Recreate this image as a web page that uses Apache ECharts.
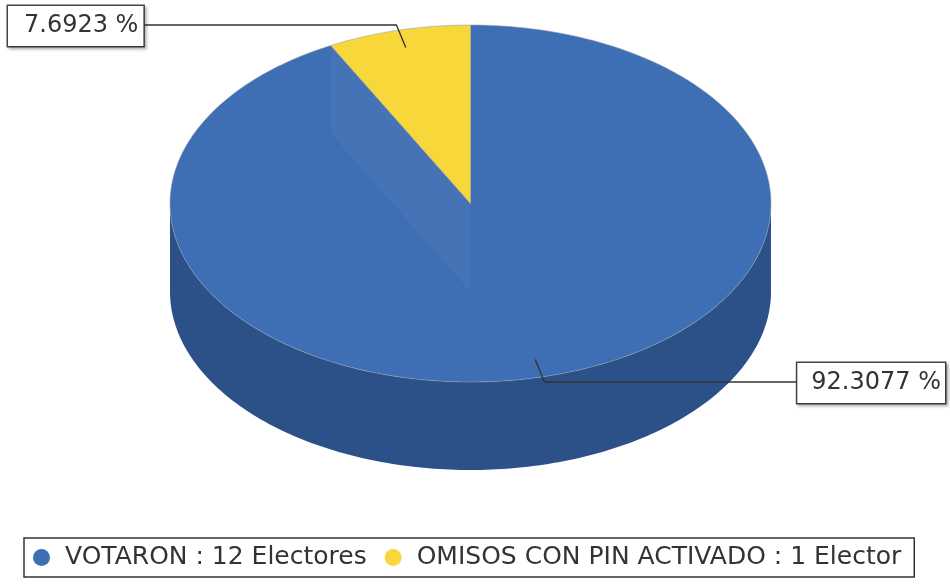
<!DOCTYPE html>
<html>
<head>
<meta charset="utf-8">
<script src="https://cdn.jsdelivr.net/npm/echarts@6/dist/echarts.min.js"></script>
<style>
  html, body { margin: 0; padding: 0; background: #fff; }
  #main { width: 950px; height: 586px; }
</style>
</head>
<body>
<div id="main"></div>
<script>
// datos del grafico
var categories = ['VOTARON', 'OMISOS CON PIN ACTIVADO'];
var values = [12, 1];
var units = ['Electores', 'Elector'];
var topColors = ['#3e6eb4', '#f7d73a'];
var sideColors = ['#2c5189', '#b89a1c'];

var total = values.reduce(function (a, b) { return a + b; }, 0);

// geometria de la torta 3D (elipse superior + profundidad)
var pie = { cx: 470.5, cy: 203.5, rx: 300.5, ry: 178.5, depth: 88 };

function pt(angle, r, dy) {
    // angulo en grados, sentido horario desde las 12
    var a = angle * Math.PI / 180;
    return [pie.cx + pie.rx * r * Math.sin(a), pie.cy - pie.ry * r * Math.cos(a) + (dy || 0)];
}

function arcPoints(a0, a1, dy) {
    var pts = [];
    var n = Math.max(2, Math.ceil(Math.abs(a1 - a0)));
    for (var i = 0; i <= n; i++) {
        pts.push(pt(a0 + (a1 - a0) * i / n, 1, dy));
    }
    return pts;
}

function sliceAngles(idx) {
    var before = 0;
    for (var i = 0; i < idx; i++) before += values[i];
    return [before / total * 360, (before + values[idx]) / total * 360];
}

function renderSlice(params, api) {
    var idx = params.seriesIndex;
    var ang = sliceAngles(idx);
    var children = [];

    // pared lateral visible (mitad frontal 90..270)
    var s = Math.max(ang[0], 90), e = Math.min(ang[1], 270);
    if (e > s) {
        var upper = arcPoints(s, e, 0);
        var lower = arcPoints(e, s, pie.depth);
        children.push({
            type: 'polygon', z2: 1,
            shape: { points: upper.concat(lower) },
            style: { fill: sideColors[idx] }
        });
    }

    // cara superior
    var topPts = [[pie.cx, pie.cy]].concat(arcPoints(ang[0], ang[1], 0));
    children.push({
        type: 'polygon', z2: 2,
        shape: { points: topPts },
        style: { fill: topColors[idx], stroke: 'rgba(150,160,175,0.7)', lineWidth: 0.8 }
    });

    // cara radial translucida
    var p0 = pt(ang[0], 1, 0);
    children.push({
        type: 'polygon', z2: 3,
        shape: { points: [[pie.cx, pie.cy], p0, pt(ang[0], 1, pie.depth), [pie.cx, pie.cy + pie.depth]] },
        style: { fill: 'rgba(200,200,210,0.06)' }
    });

    // etiqueta con linea guia
    var mid = (ang[0] + ang[1]) / 2;
    var anchor = pt(mid, 0.9, 0);
    var elbow = pt(mid, 1.03, 0);
    var left = elbow[0] < pie.cx;
    var boxX = left ? 143 : 797;
    children.push({
        type: 'polyline', z2: 5,
        shape: { points: [anchor, elbow, [boxX, elbow[1]]] },
        style: { stroke: '#333', lineWidth: 1.3, fill: null }
    });
    var pct = (values[idx] / total * 100).toFixed(4) + ' %';
    children.push({
        type: 'text', z2: 6,
        style: {
            x: left ? 8 : 945,
            y: elbow[1] + 1,
            text: pct,
            align: left ? 'left' : 'right',
            verticalAlign: 'middle',
            font: '24px "DejaVu Sans"',
            fill: '#333',
            backgroundColor: '#fff',
            borderColor: '#444',
            borderWidth: 1.5,
            padding: left ? [8, 5, 8, 16] : [8, 4, 8, 14],
            shadowColor: 'rgba(0,0,0,0.25)',
            shadowBlur: 3,
            shadowOffsetX: 2,
            shadowOffsetY: 2
        }
    });

    return { type: 'group', children: children };
}

var series = categories.map(function (name, i) {
    return {
        type: 'custom',
        name: name + ' : ' + values[i] + ' ' + units[i],
        coordinateSystem: 'none',
        z: 2 + i,
        itemStyle: { color: topColors[i] },
        renderItem: renderSlice,
        data: [values[i]],
        silent: true
    };
});

var myChart = echarts.init(document.getElementById('main'));
myChart.setOption({
    animation: false,
    backgroundColor: '#fff',
    legend: {
        left: 24,
        top: 538,
        orient: 'horizontal',
        icon: 'circle',
        itemWidth: 17,
        itemHeight: 17,
        itemGap: 18,
        padding: [7, 13, 7, 9],
        borderColor: '#333',
        borderWidth: 1.5,
        selectedMode: false,
        textStyle: { fontSize: 25, fontFamily: 'DejaVu Sans', color: '#333', padding: [0, 0, 0, 10] },
        data: series.map(function (s) { return s.name; })
    },
    series: series
});
</script>
</body>
</html>
